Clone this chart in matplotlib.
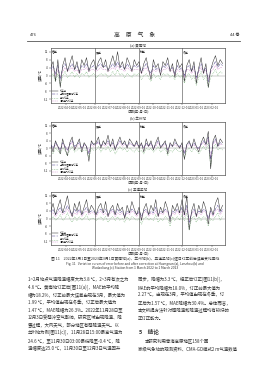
import matplotlib
matplotlib.use('Agg')
import matplotlib.pyplot as plt
import matplotlib.dates as mdates
import pandas as pd

plt.rcParams['font.family'] = ['Noto Sans CJK SC', 'DejaVu Sans']
plt.rcParams['axes.unicode_minus'] = False

# ---- data (5-day samples, 2022-03-01 .. 2023-02-24) ----
start_date = '2022-03-01'
n_points = 73
series_names = ['订正前', '一元线性回归订正', '平均订正', '滑动平均订正']
station_titles = ['(a) 黄南站', '(b) 兰州站', '(c) 五道梁站']
season_names = ['春季', '夏季', '秋季', '冬季']
season_starts = ['2022-03-01', '2022-06-01', '2022-09-01', '2022-12-01']

# (a) Huangnan
a_raw = [4, 7, -3, 8, -6, 5, 9, 2, 6, 10, 3, 7, 1, 8, 5, 9, 2, 6, 8,
         3, 7, 9, 4, 8, 2, 6, 10, 5, 12, 4, 7, 3, 9, 6, 2, 8, 5,
         7, 1, 6, 9, 3, -2, 8, 4, 6, 0, 7, 5, 9, 2, 6, -1, 8, 4,
         6, -3, 5, 8, 2, 7, -4, 4, 9, 1, 6, -6, 3, 7, 10, 5, 8, 6]
a_reg = [3, 5, 1, 5, -2, 4, 6, 3, 4, 6, 3, 5, 2, 5, 4, 6, 3, 4, 5,
         3, 5, 6, 4, 5, 3, 4, 6, 4, 7, 4, 5, 3, 6, 4, 3, 5, 4,
         5, 2, 4, 6, 3, 1, 5, 3, 4, 2, 5, 4, 6, 3, 4, 1, 5, 3,
         4, 0, 4, 5, 2, 5, -1, 3, 6, 2, 4, -3, 3, 5, 7, 4, 6, 5]
a_mean = [0, 1, -3, 1, -5, 0, 2, -1, 0, 2, -1, 1, -1, 1, 0, 2, -1, 0, 1,
          -1, 0, 1, 0, 1, -1, 0, 2, 0, 3, 0, 1, -1, 1, 0, -1, 1, 0,
          1, -2, 0, 1, -1, -3, 1, -1, 0, -2, 1, 0, 1, -1, 0, -2, 1, -1,
          0, -4, 0, 1, -2, 0, -5, -1, 2, -2, 0, -6, -1, 1, 3, 0, 2, 1]
a_slide = [2, 3, 0, 3, -1, 2, 4, 2, 3, 4, 2, 3, 1, 3, 3, 4, 2, 3, 3,
           2, 3, 4, 3, 3, 2, 3, 4, 3, 5, 3, 3, 2, 4, 3, 2, 3, 3,
           3, 1, 3, 4, 2, 0, 3, 2, 3, 1, 3, 3, 4, 2, 3, 0, 3, 2,
           3, -1, 3, 3, 1, 3, -2, 2, 4, 1, 3, -2, 2, 3, 5, 3, 4, 4]

# (b) Lanzhou
b_raw = [2, -2, 4, 1, -3, 5, 0, -4, 3, 6, -1, 2, 5, -2, 3, 1, -7, 4, 2,
         3, 6, 0, 4, 2, 7, 1, 5, -1, 3, 6, 2, 4, 0, 5, 3, 1, 4,
         0, 3, -2, 5, 1, 4, -1, 3, 6, 0, 2, 4, -3, 3, 1, 5, 2, 0,
         3, -6, 2, 4, 0, 5, 1, -2, 3, 6, 2, 9, -11, 4, 7, 1, 5, 3]
b_reg = [2, 0, 3, 1, -1, 3, 1, -1, 2, 4, 1, 2, 3, 0, 2, 1, -3, 3, 2,
         2, 4, 1, 3, 2, 4, 1, 3, 0, 2, 4, 2, 3, 1, 3, 2, 1, 3,
         1, 2, 0, 3, 1, 3, 0, 2, 4, 1, 2, 3, -1, 2, 1, 3, 2, 1,
         2, -3, 2, 3, 1, 3, 1, 0, 2, 4, 2, 6, -6, 3, 5, 1, 3, 2]
b_mean = [-1, -3, 0, -1, -3, 0, -1, -4, -1, 1, -2, -1, 0, -2, -1, -1, -5, 0, -1,
          -1, 1, -2, 0, -1, 1, -2, 0, -3, -1, 1, -1, 0, -2, 0, -1, -2, 0,
          -2, -1, -3, 0, -1, 0, -2, -1, 1, -2, -1, 0, -4, -1, -2, 0, -1, -2,
          -1, -5, -1, 0, -2, 0, -1, -3, -1, 1, -1, 3, -9, 0, 2, -1, 0, -1]
b_slide = [1, 0, 2, 1, -1, 2, 1, -1, 2, 3, 0, 1, 2, 0, 2, 1, -2, 2, 1,
           2, 3, 1, 2, 1, 3, 1, 2, 0, 2, 3, 1, 2, 1, 2, 2, 1, 2,
           1, 2, 0, 2, 1, 2, 0, 1, 3, 1, 1, 2, -1, 2, 1, 2, 1, 1,
           1, -2, 1, 2, 1, 2, 0, 0, 2, 3, 1, 5, -5, 2, 4, 1, 2, 2]

# (c) Wudaoliang
c_raw = [4, 8, 2, 6, 10, 3, 7, 12, 5, 1, 8, 4, 9, 2, 6, 10, 3, 7, 5,
         2, 6, 8, 3, 9, 1, 5, 7, 2, 8, 4, 6, 0, 7, 3, 9, 5, 2,
         6, -1, 5, 8, 2, 7, 4, 10, 1, 6, 3, 9, 5, -2, 7, 4, 8, 3,
         10, 2, 12, -6, 4, 8, 1, 7, 3, 9, 5, -3, 6, 2, 8, 11, 4, 7]
c_reg = [3, 5, 2, 4, 6, 3, 4, 7, 4, 2, 5, 3, 5, 2, 4, 6, 3, 4, 4,
         2, 4, 5, 3, 5, 2, 4, 5, 2, 5, 3, 4, 1, 4, 3, 5, 4, 2,
         4, 1, 4, 5, 2, 4, 3, 6, 2, 4, 3, 5, 4, 0, 4, 3, 5, 3,
         6, 2, 7, -2, 3, 5, 2, 4, 3, 5, 4, 0, 4, 2, 5, 7, 3, 5]
c_mean = [0, 1, -1, 0, 2, -1, 0, 3, 0, -2, 1, -1, 1, -1, 0, 2, -1, 0, 0,
          -1, 0, 1, -1, 1, -2, 0, 1, -1, 1, -1, 0, -2, 1, -1, 1, 0, -1,
          0, -3, 0, 1, -1, 0, -1, 2, -2, 0, -1, 1, 0, -4, 1, -1, 1, -1,
          2, -1, 3, -6, 0, 1, -2, 1, -1, 1, 0, -4, 0, -1, 1, 3, -1, 1]
c_slide = [2, 3, 1, 3, 4, 2, 3, 5, 3, 1, 3, 2, 4, 1, 3, 4, 2, 3, 3,
           1, 3, 4, 2, 3, 1, 3, 4, 1, 3, 2, 3, 1, 3, 2, 4, 3, 1,
           3, 0, 3, 4, 1, 3, 2, 4, 1, 3, 2, 4, 3, 0, 3, 2, 4, 2,
           4, 1, 5, -1, 2, 4, 1, 3, 2, 4, 3, 0, 3, 1, 4, 5, 2, 4]

y_ticks = [-12, -8, -4, 0, 4, 8, 12]

caption_cn = '图 11　2022年3月1日至2023年3月1日黄南站(a)、兰州站(b)、五道梁站(c)逐日订正前后误差变化曲线'
caption_en = ['Fig. 11   Variation curves of error before and after correction at Huangnan (a), Lanzhou (b) and',
              'Wudaoliang (c) Station from 1 March 2022 to 1 March 2023']
left_col = ['1~2月站点气温降温幅度大为3.8 ℃，2~3月有次之为',
            '4.6 ℃。黄南站订正后[图11(a)]，MAE的平均降',
            '幅为18.2%，订正前最大误差出现在3月，最大值为',
            '1.99 ℃，平均值出现在冬季，订正后最大值为',
            '1.47 ℃，MAE降幅为26.3%。2022年11月28日至',
            '12月3日受强冷空气影响，研究区域出现降温、降',
            '雪过程，大风天气，部分地区有强降温天气。以',
            '兰州站为例[图11(c)]，11月28日15:00最高气温为',
            '24.6 ℃，至11月30日03:00最低降至-0.4 ℃，降',
            '温幅度达25.0 ℃，11月30日至12月3日气温回升']
right_col = ['同步，降幅为3.3 ℃，经正后订正[图11(b)]，',
             'MAE的平均降幅为18.0%，订正前最大值为',
             '2.27 ℃，出现在3月，平均值出现在冬季，订',
             '正后为1.57 ℃，MAE降幅为30.4%。总体而言，',
             '本文所提方法针对强降温和降温过程均有较好的',
             '正订正能力。']
concl_col = ['本研究利用青海高原地区158个国',
             '家级气象站的观测资料、CMA-GD模式2 m气温数值']

# ---- layout (pixel coords on a 270x380 page) ----
W, H = 270, 380


def fx(x):
    return x / W


def fy(y):
    return 1 - y / H


dates = pd.date_range(start_date, periods=n_points, freq='5D')
panels = [(a_raw, a_reg, a_mean, a_slide),
          (b_raw, b_reg, b_mean, b_slide),
          (c_raw, c_reg, c_mean, c_slide)]
boxes = [(47.7, 103.3), (122.0, 174.5), (192.0, 245.0)]  # top, bottom px
styles = [dict(color='#2a2a2a', ls='-', lw=0.35, zorder=4),
          dict(color='#4a3c8c', ls='-.', lw=0.35, zorder=3),
          dict(color='#6aaa6a', ls=':', lw=0.45, zorder=2),
          dict(color='#d895d3', ls='--', lw=0.35, zorder=2)]
txt = '#333333'

fig = plt.figure(figsize=(2.7, 3.8), dpi=100)

# page header
fig.text(fx(30), fy(35), '476', fontsize=3, color=txt, va='center')
fig.text(fx(135), fy(35), '高　原　气　象', fontsize=4.2, color=txt,
         ha='center', va='center')
fig.text(fx(240), fy(35), '44 卷', fontsize=3, color=txt, ha='right', va='center')
fig.add_artist(plt.Line2D([fx(27), fx(240)], [fy(40.7), fy(40.7)],
                          color='#555555', lw=0.6))

ax_left, ax_right = 50.7, 225.0
for i, (series, (top, bot)) in enumerate(zip(panels, boxes)):
    ax = fig.add_axes([fx(ax_left), fy(bot), (ax_right - ax_left) / W, (bot - top) / H])
    for vals, name, st in zip(series, series_names, styles):
        ax.plot(dates, vals, label=name, **st)
    ax.axhline(0, color='#888888', lw=0.3, zorder=1)
    for s in season_starts[1:]:
        ax.axvline(pd.Timestamp(s), color='#444444', lw=0.4, zorder=5)
    for name, s in zip(season_names, season_starts):
        ax.text(pd.Timestamp(s) + pd.Timedelta(days=2), 0.95, name,
                transform=ax.get_xaxis_transform(), fontsize=2.2, va='top', color=txt)
    ax.set_xlim(pd.Timestamp('2022-03-01'), pd.Timestamp('2023-03-01'))
    ax.set_ylim(-14, 14)
    ax.set_yticks(y_ticks)
    ax.xaxis.set_major_locator(mdates.MonthLocator(bymonth=[4, 5, 6, 7, 8, 9, 10, 11, 12, 1, 2]))
    ax.xaxis.set_major_formatter(mdates.DateFormatter('%Y-%m-%d'))
    ax.tick_params(labelsize=2.1, length=1.2, width=0.3, pad=0.8, colors=txt)
    for sp in ax.spines.values():
        sp.set_linewidth(0.45)
        sp.set_color('#444444')
    ax.set_ylabel('误差/℃', fontsize=2.5, labelpad=1, color=txt)
    ax.legend(loc='lower left', fontsize=1.7, frameon=False, handlelength=2.6,
              handletextpad=0.4, labelspacing=0.2, borderaxespad=0.3)
    fig.text(fx(138), fy(top - 2.8), station_titles[i], fontsize=2.5,
             ha='center', va='center', color=txt)
    fig.text(fx(138), fy(bot + 8.2), '日期(年-月-日)', fontsize=2.4,
             ha='center', va='center', color=txt)

# caption
fig.text(fx(135), fy(258.5), caption_cn, fontsize=2.7, ha='center', va='center', color=txt)
fig.text(fx(135), fy(263.8), caption_en[0], fontsize=2.3, ha='center', va='center', color=txt)
fig.text(fx(135), fy(268.3), caption_en[1], fontsize=2.3, ha='center', va='center', color=txt)

# body text
line_h = 7.6
y0 = 280
for k, s in enumerate(left_col):
    fig.text(fx(28), fy(y0 + k * line_h), s, fontsize=3.2, va='center', color=txt)
for k, s in enumerate(right_col):
    fig.text(fx(138), fy(y0 + k * line_h), s, fontsize=3.2, va='center', color=txt)
fig.text(fx(139), fy(331), '5　结论', fontsize=4, fontweight='bold', va='center', color=txt)
fig.text(fx(145), fy(341.5), concl_col[0], fontsize=3.2, va='center', color=txt)
fig.text(fx(138), fy(349.1), concl_col[1], fontsize=3.2, va='center', color=txt)

fig.savefig('out.png', dpi=100)
